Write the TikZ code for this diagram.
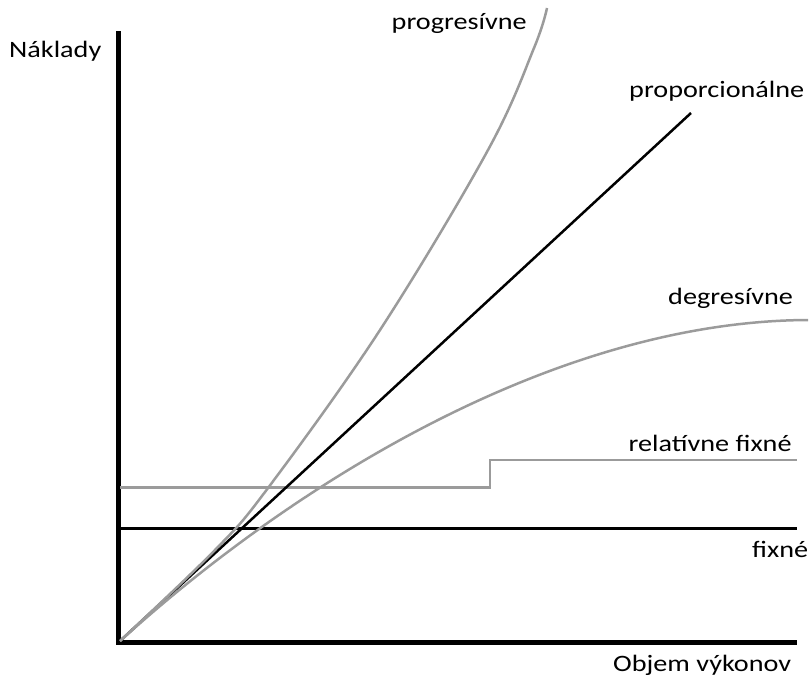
\documentclass[tikz,border=0pt]{standalone}
\usepackage{fontspec}
\setmainfont{Carlito}
\definecolor{curvegray}{RGB}{155,155,155}
\newcommand{\lbl}[1]{\scalebox{1.2}[1]{#1}}
\begin{document}
\begin{tikzpicture}[x=1pt,y=-1pt,
  axis/.style={line width=5pt,black},
  blackline/.style={line width=2.5pt,black},
  grayline/.style={line width=2.5pt,curvegray},
  lab/.style={inner sep=0pt,font=\fontsize{23.5}{26}\selectfont}]
\useasboundingbox (0,0) rectangle (810,677);

% axes
\coordinate (O) at (120,641);
\coordinate (ytop) at (118.5,31.5);
\coordinate (ybot) at (118.5,645);
\coordinate (xstart) at (116,642.5);
\coordinate (xend) at (797,642.5);
\draw[axis] (ytop) -- (ybot);
\draw[axis] (xstart) -- (xend);

% fixed costs
\coordinate (f0) at (120,528.5);
\coordinate (f1) at (797,528.5);
\draw[blackline] (f0) -- (f1);

% relatively fixed costs (step)
\coordinate (r0) at (120,487.5);
\coordinate (r1) at (490,487.5);
\coordinate (r2) at (490,460);
\coordinate (r3) at (797,460);
\draw[grayline] (r0) -- (r1) -- (r2) -- (r3);

% proportional costs
\coordinate (p1) at (691,113);
\draw[blackline] (O) -- (p1);

% progressive costs
\draw[grayline] plot[smooth,tension=0.6] coordinates
  {(120,641) (215,550) (268,488) (380,330) (488,150) (534,48) (547,8)};

% degressive costs
\coordinate (d1) at (808,320);
\draw[grayline] (O) .. controls (300,478) and (560,321) .. (d1);

% labels
\node[lab,anchor=base west] (ylab) at (9,58) {\lbl{Náklady}};
\node[lab,anchor=base west] (xlab) at (613,671) {\lbl{Objem výkonov}};
\node[lab,anchor=base west] (lprog) at (391.5,29.5) {\lbl{progresívne}};
\node[lab,anchor=base west] (lprop) at (629,97) {\lbl{proporcionálne}};
\node[lab,anchor=base west] (ldeg) at (668,304) {\lbl{degresívne}};
\node[lab,anchor=base west] (lrel) at (628.5,451.5) {\lbl{relatívne fixné}};
\node[lab,anchor=base west] (lfix) at (752,557.5) {\lbl{fixné}};
\end{tikzpicture}
\end{document}
